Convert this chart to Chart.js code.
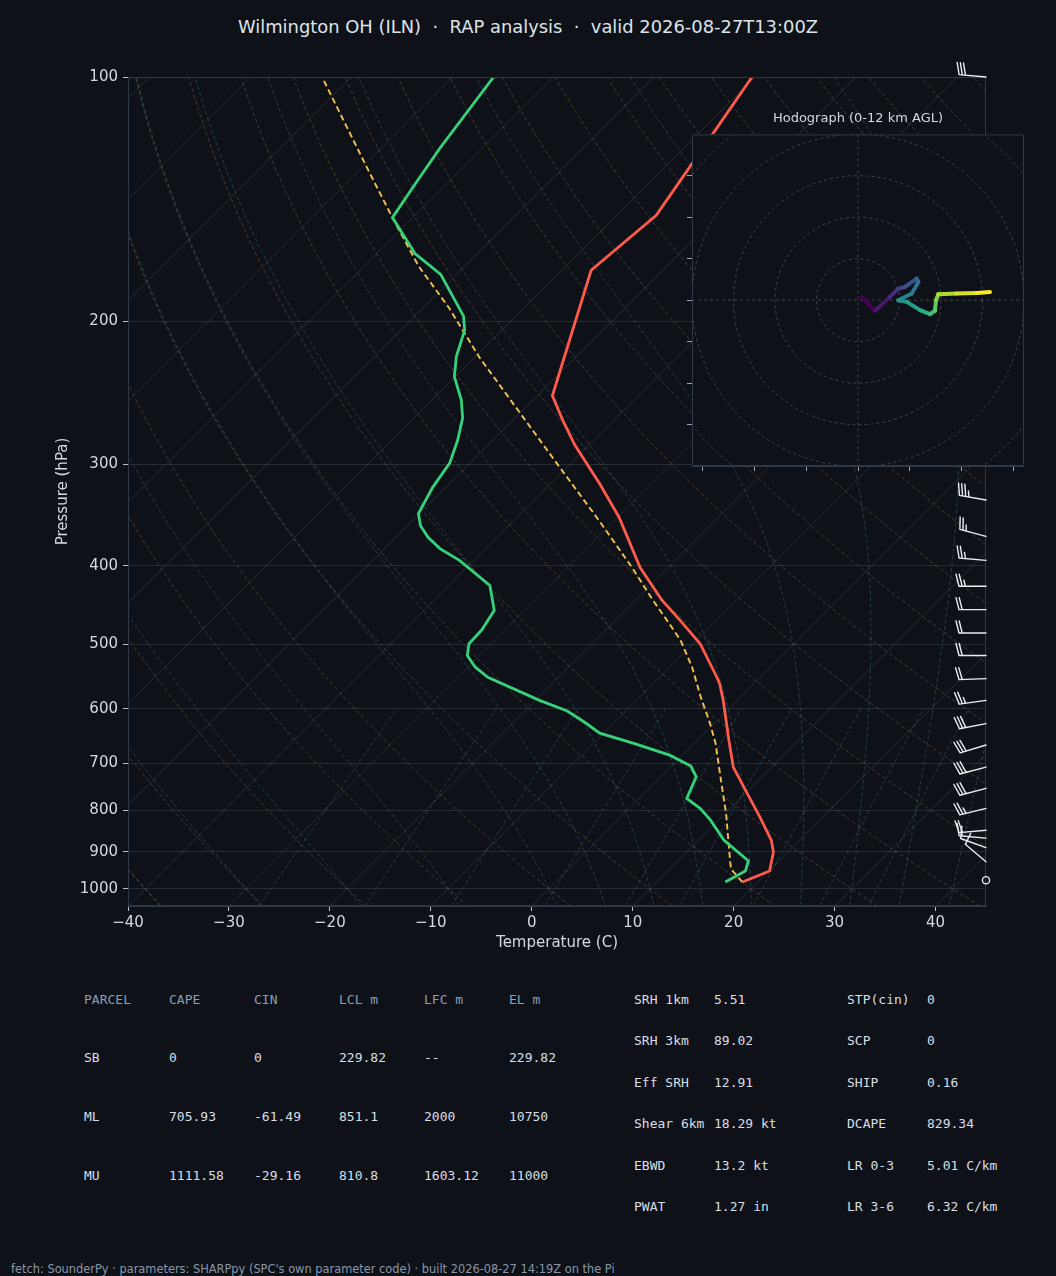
<!DOCTYPE html>
<html>
<head>
<meta charset="utf-8">
<script src="https://cdn.jsdelivr.net/npm/chart.js@4.4.1/dist/chart.umd.min.js"></script>
<style>
  body { margin: 0; background: #0e1218; width: 1056px; height: 1276px; overflow: hidden; position: relative; font-family: "DejaVu Sans", sans-serif; }
  #skew { position: absolute; left: 0; top: 0; }
  #hodo { position: absolute; left: 660px; top: 100px; }
  #title { position: absolute; left: 0; width: 1056px; top: 15px; text-align: center; font-size: 17.9px; line-height: 24px; color: #dfe4ea; white-space: pre; }
  .cell { position: absolute; font-family: "DejaVu Sans Mono", monospace; font-size: 13px; line-height: 16px; color: #d9dee6; white-space: pre; }
  .cell.head { color: #8d9db6; }
  #foot { position: absolute; left: 11px; top: 1262px; font-size: 11.4px; line-height: 14px; color: #8a96a8; white-space: pre; }
</style>
</head>
<body>
<div id="title">Wilmington OH (ILN)  ·  RAP analysis  ·  valid 2026-08-27T13:00Z</div>
<canvas id="skew" width="1056" height="960"></canvas>
<canvas id="hodo" width="380" height="380"></canvas>
<div id="tables"></div>
<div id="foot">fetch: SounderPy · parameters: SHARPpy (SPC's own parameter code) · built 2026-08-27 14:19Z on the Pi</div>
<script>
// sounding: pressure (hPa) and temperature (C)
const tempP = [981, 951, 901, 871, 816, 749, 708, 656, 586, 559, 548, 499, 467, 441, 402, 349, 317, 284, 265, 247, 236, 173, 148, 116, 100];
const tempC = [18.5, 20.1, 18.6, 17.2, 13.8, 9.2, 6.2, 3.1, -1.4, -3.4, -4.4, -9.3, -13.6, -17.4, -22.8, -29.8, -35.1, -41.4, -45.0, -48.5, -49.6, -57.1, -56.1, -58.7, -60.3];

const dewP = [981, 951, 924, 871, 823, 796, 774, 728, 706, 685, 662, 643, 624, 604, 586, 549, 533, 516, 499, 480, 454, 423, 394, 381, 369, 357, 345, 320, 299, 280, 263, 250, 234, 221, 205, 197, 175, 165, 149, 134, 122, 100];
const dewC = [16.8, 17.7, 17.0, 12.5, 9.2, 7.0, 4.7, 3.5, 1.9, -1.2, -6.0, -10.4, -12.9, -15.8, -19.6, -27.0, -29.3, -31.2, -32.2, -32.3, -33.0, -35.9, -41.4, -44.5, -46.8, -48.7, -50.1, -51.3, -52.0, -53.5, -55.2, -57.1, -60.1, -61.9, -63.7, -65.2, -71.6, -76.2, -82.0, -83.2, -84.2, -85.9];

const parcelP = [981, 946, 922, 808, 728, 662, 626, 580, 533, 494, 467, 441, 402, 352, 300, 222, 192, 171, 149, 129, 100];
const parcelC = [18.5, 16.1, 15.1, 10.1, 5.9, 2.1, -0.4, -4.0, -7.8, -11.6, -14.9, -18.3, -23.6, -31.5, -41.2, -59.4, -67.6, -74.6, -82.0, -89.6, -102.9];

// wind barbs: pressure, direction (deg), speed (kt)
const windP = [976, 926, 890, 866, 847, 796, 752, 708, 665, 626, 586, 551, 516, 484, 453, 424, 394, 368, 332, 100];
const windDir = [0, 310, 290, 275, 265, 256, 255, 255, 253, 259, 262, 268, 270, 270, 270, 270, 275, 285, 280, 275];
const windKt = [0, 10, 10, 15, 20, 25, 30, 30, 30, 30, 25, 20, 20, 20, 20, 25, 25, 25, 35, 30];

// hodograph u/v (kt), bottom to top
const hodoU = [1.8, 8.2, 15.4, 19.4, 22.6, 28.3, 29.1, 25.9, 19.4, 23.5, 29.9, 34.7, 37.1, 37.6, 38.7, 47.5, 57.2, 63.6];
const hodoV = [1.6, -5.1, 1.6, 5.6, 6.4, 10.4, 8.8, 3.2, 0.0, -0.8, -4.8, -6.7, -5.1, 0.0, 2.9, 3.2, 3.5, 3.9];

const pressureTicks = [100, 200, 300, 400, 500, 600, 700, 800, 900, 1000];
const tempTicks = [-40, -30, -20, -10, 0, 10, 20, 30, 40];
const hodoTicksU = [-75, -50, -25, 0, 25, 50, 75];
const hodoTicksV = [-60, -40, -20, 0, 20, 40, 60];

const parcelTable = [
  ['PARCEL', 'CAPE', 'CIN', 'LCL m', 'LFC m', 'EL m'],
  ['SB', '0', '0', '229.82', '--', '229.82'],
  ['ML', '705.93', '-61.49', '851.1', '2000', '10750'],
  ['MU', '1111.58', '-29.16', '810.8', '1603.12', '11000'],
];
const paramTable = [
  ['SRH 1km', '5.51', 'STP(cin)', '0'],
  ['SRH 3km', '89.02', 'SCP', '0'],
  ['Eff SRH', '12.91', 'SHIP', '0.16'],
  ['Shear 6km', '18.29 kt', 'DCAPE', '829.34'],
  ['EBWD', '13.2 kt', 'LR 0-3', '5.01 C/km'],
  ['PWAT', '1.27 in', 'LR 3-6', '6.32 C/km'],
];

// ---- skew-T helpers ----
const P_BOT = 1050, P_TOP = 100;
const K = 80.42;  // deg C per decade of pressure -> isotherms at 45 deg
const skew = (t, p) => t + K * Math.log10(P_BOT / p);
const toPts = (ps, ts) => ps.map((p, i) => ({ x: skew(ts[i], p), y: p }));

const BG = '#0e1218';
const SPINE = '#2f3946';
const TXT = '#d3d9e1';

function bgLine(data, color, dash) {
  return { data, borderColor: color, borderWidth: 1, borderDash: dash || [], pointRadius: 0, showLine: true, order: 10 };
}

const levels = [];
for (let p = P_BOT; p >= P_TOP; p -= 10) levels.push(p);

const background = [];
// isotherms
for (let t = -130; t <= 40; t += 10) {
  background.push(bgLine([{ x: skew(t, P_BOT), y: P_BOT }, { x: skew(t, P_TOP), y: P_TOP }], 'rgba(140,150,165,0.2)'));
}
// dry adiabats
for (let th = -40; th <= 200; th += 10) {
  const pts = levels.map(p => ({ x: skew((th + 273.15) * Math.pow(p / 1000, 0.2857) - 273.15, p), y: p }));
  background.push(bgLine(pts, 'rgba(150,115,70,0.42)', [4, 2.5]));
}
// moist adiabats
function moistAdiabat(t0) {
  const Rd = 287.04, Cp = 1005.7, Lv = 2.501e6, eps = 0.622;
  const rate = (T, p) => {
    const es = 6.112 * Math.exp(17.67 * (T - 273.15) / (T - 29.65));
    const rs = eps * es / (p - es);
    return (Rd * T + Lv * rs) / (Cp + Lv * Lv * rs * eps / (Rd * T * T)) / p;
  };
  const run = (dp, stop) => {
    const out = [];
    let T = t0 + 273.15;
    for (let p = 1000; dp < 0 ? p >= stop : p <= stop; p += dp) {
      out.push({ x: skew(T - 273.15, p), y: p });
      const k1 = rate(T, p);
      const k2 = rate(T + k1 * dp / 2, p + dp / 2);
      T += k2 * dp;
    }
    return out;
  };
  return run(10, P_BOT).reverse().concat(run(-10, P_TOP).slice(1));
}
[-40, -30, -20, -10, 0, 5, 10, 15, 20, 25, 30, 35, 40, 45].forEach(t0 => {
  background.push(bgLine(moistAdiabat(t0), 'rgba(70,120,140,0.42)', [4, 2.5]));
});
// mixing ratio lines
[0.0004, 0.001, 0.002, 0.004, 0.007, 0.01, 0.016, 0.024, 0.032].forEach(w => {
  const pts = [];
  for (let p = P_BOT; p >= 600; p -= 10) {
    const e = w * p / (0.622 + w);
    const l = Math.log(e / 6.112);
    pts.push({ x: skew(243.5 * l / (17.67 - l), p), y: p });
  }
  background.push(bgLine(pts, 'rgba(70,120,140,0.42)', [4, 2.5]));
});

// ---- wind barbs ----
function drawBarb(ctx, bx, by, dir, spd) {
  if (spd < 2.5) {
    ctx.beginPath();
    ctx.arc(bx, by, 3.6, 0, 2 * Math.PI);
    ctx.stroke();
    return;
  }
  const a = dir * Math.PI / 180;
  const dx = Math.sin(a), dy = -Math.cos(a);
  const nx = -dy, ny = dx;
  const L = 27, bl = 12, sp = 3.2;
  const tx = bx + dx * L, ty = by + dy * L;
  ctx.beginPath();
  ctx.moveTo(bx, by);
  ctx.lineTo(tx, ty);
  let s = Math.round(spd / 5) * 5;
  const full = Math.floor(s / 10);
  const half = s % 10 >= 5;
  let pos = 0;
  for (let k = 0; k < full; k++) {
    const px = tx - dx * pos, py = ty - dy * pos;
    ctx.moveTo(px, py);
    ctx.lineTo(px + nx * bl + dx * bl * 0.25, py + ny * bl + dy * bl * 0.25);
    pos += sp;
  }
  if (half) {
    if (full === 0) pos += sp;
    const px = tx - dx * pos, py = ty - dy * pos;
    ctx.moveTo(px, py);
    ctx.lineTo(px + nx * bl * 0.5 + dx * bl * 0.125, py + ny * bl * 0.5 + dy * bl * 0.125);
  }
  ctx.stroke();
}

const skewExtras = {
  id: 'skewExtras',
  afterDatasetsDraw(chart) {
    const { ctx, chartArea: a, scales: { x, y } } = chart;
    ctx.save();
    ctx.strokeStyle = SPINE;
    ctx.lineWidth = 1;
    ctx.strokeRect(a.left + 0.5, a.top + 0.5, a.right - a.left - 1, a.bottom - a.top - 1);
    ctx.strokeStyle = '#e9edf2';
    ctx.lineWidth = 1.4;
    ctx.lineCap = 'round';
    const x0 = x.getPixelForValue(45);
    windP.forEach((p, i) => drawBarb(ctx, x0, y.getPixelForValue(p), windDir[i], windKt[i]));
    ctx.restore();
  }
};

Chart.defaults.font.family = '"DejaVu Sans", sans-serif';
Chart.defaults.color = TXT;

new Chart(document.getElementById('skew'), {
  type: 'scatter',
  data: {
    datasets: [
      { data: toPts(tempP, tempC), borderColor: '#ff5a4b', borderWidth: 2.8, pointRadius: 0, showLine: true, order: 1 },
      { data: toPts(dewP, dewC), borderColor: '#37d17b', borderWidth: 2.8, pointRadius: 0, showLine: true, order: 2 },
      { data: toPts(parcelP, parcelC), borderColor: '#f4c24c', borderWidth: 1.9, borderDash: [6, 3.5], pointRadius: 0, showLine: true, order: 3 },
      ...background,
    ],
  },
  options: {
    responsive: false,
    animation: false,
    events: [],
    layout: { padding: { left: 51, top: 77, right: 70, bottom: 5 } },
    plugins: { legend: { display: false }, tooltip: { enabled: false } },
    scales: {
      x: {
        type: 'linear', min: -40, max: 45,
        afterBuildTicks: s => { s.ticks = tempTicks.map(v => ({ value: v })); },
        afterFit: s => { s.height = 49; },
        ticks: { color: TXT, font: { size: 15 }, padding: 3, autoSkip: false, maxRotation: 0,
                 callback: v => (v < 0 ? '\u2212' + Math.abs(v) : String(v)) },
        grid: { drawOnChartArea: false, tickLength: 5, tickColor: '#b8c0cc' },
        border: { color: SPINE },
        title: { display: true, text: 'Temperature (C)', color: TXT, font: { size: 15 }, padding: { top: 4, bottom: 3 } },
      },
      y: {
        type: 'logarithmic', reverse: true, min: P_TOP, max: P_BOT,
        afterBuildTicks: s => { s.ticks = pressureTicks.map(v => ({ value: v })); },
        afterFit: s => { s.width = 77; },
        ticks: { color: TXT, font: { size: 15 }, padding: 5, autoSkip: false, callback: v => String(v) },
        grid: { color: 'rgba(140,150,165,0.2)', tickLength: 5, tickColor: '#b8c0cc' },
        border: { color: SPINE },
        title: { display: true, text: 'Pressure (hPa)', color: TXT, font: { size: 15 }, padding: { top: 3, bottom: 4 } },
      },
    },
  },
  plugins: [skewExtras],
});

// ---- hodograph ----
const VIRIDIS = ['#440154', '#482475', '#414487', '#355f8d', '#2a788e', '#21918c', '#22a884', '#44bf70', '#7ad151', '#bddf26', '#fde725'];
function viridis(t) {
  t = Math.min(1, Math.max(0, t));
  const f = t * 10, i = Math.min(9, Math.floor(f)), r = f - i;
  const h = c => [1, 3, 5].map(k => parseInt(c.slice(k, k + 2), 16));
  const a = h(VIRIDIS[i]), b = h(VIRIDIS[i + 1]);
  return 'rgb(' + a.map((v, k) => Math.round(v + (b[k] - v) * r)).join(',') + ')';
}

const hodoExtras = {
  id: 'hodoExtras',
  beforeDatasetsDraw(chart) {
    const { ctx, chartArea: a, scales: { x, y } } = chart;
    ctx.save();
    ctx.fillStyle = BG;
    ctx.fillRect(a.left, a.top, a.right - a.left, a.bottom - a.top);
    ctx.beginPath();
    ctx.rect(a.left, a.top, a.right - a.left, a.bottom - a.top);
    ctx.clip();
    ctx.strokeStyle = 'rgba(130,140,155,0.4)';
    ctx.lineWidth = 1;
    ctx.setLineDash([3, 3]);
    const cx = x.getPixelForValue(0), cy = y.getPixelForValue(0);
    const unit = x.getPixelForValue(1) - cx;
    for (let r = 20; r <= 120; r += 20) {
      ctx.beginPath();
      ctx.arc(cx, cy, r * unit, 0, 2 * Math.PI);
      ctx.stroke();
    }
    ctx.beginPath();
    ctx.moveTo(cx, a.top); ctx.lineTo(cx, a.bottom);
    ctx.moveTo(a.left, cy); ctx.lineTo(a.right, cy);
    ctx.stroke();
    ctx.restore();
  },
  afterDraw(chart) {
    const { ctx, chartArea: a } = chart;
    ctx.save();
    ctx.strokeStyle = SPINE;
    ctx.lineWidth = 1;
    ctx.strokeRect(a.left + 0.5, a.top + 0.5, a.right - a.left - 1, a.bottom - a.top - 1);
    ctx.restore();
  }
};

const hodoAxis = (ticks, fit) => ({
  type: 'linear', min: -80, max: 80,
  afterBuildTicks: s => { s.ticks = ticks.map(v => ({ value: v })); },
  afterFit: fit,
  ticks: { callback: () => '', autoSkip: false },
  grid: { drawOnChartArea: false, tickLength: 5, tickColor: '#9aa4b2' },
  border: { color: SPINE },
});

new Chart(document.getElementById('hodo'), {
  type: 'scatter',
  data: {
    datasets: [{
      data: hodoU.map((u, i) => ({ x: u, y: hodoV[i] })),
      showLine: true, pointRadius: 0, borderWidth: 4,
      borderCapStyle: 'round', borderJoinStyle: 'round',
      segment: { borderColor: c => viridis(c.p0DataIndex / (hodoU.length - 2)) },
    }],
  },
  options: {
    responsive: false,
    animation: false,
    events: [],
    layout: { padding: { left: 24, right: 16, top: 1, bottom: 6 } },
    plugins: {
      legend: { display: false },
      tooltip: { enabled: false },
      title: { display: true, fullSize: false, text: 'Hodograph (0-12 km AGL)', color: '#d3d9e1',
               font: { size: 13, weight: 'normal' }, padding: { top: 10, bottom: 7.8 } },
    },
    scales: {
      x: hodoAxis(hodoTicksU, s => { s.height = 8; }),
      y: hodoAxis(hodoTicksV, s => { s.width = 8; }),
    },
  },
  plugins: [hodoExtras],
});

// ---- parameter tables ----
const tables = document.getElementById('tables');
function cell(text, x, y, head) {
  const d = document.createElement('div');
  d.className = 'cell' + (head ? ' head' : '');
  d.textContent = text;
  d.style.left = x + 'px';
  d.style.top = (y - 8) + 'px';
  tables.appendChild(d);
}
const parcelCols = [84, 169, 254, 339, 424, 509];
const parcelRows = [1000, 1058, 1117, 1176];
parcelTable.forEach((row, r) => row.forEach((t, c) => cell(t, parcelCols[c], parcelRows[r], r === 0)));
const paramCols = [634, 714, 847, 927];
const paramRows = [1000, 1041, 1083, 1124, 1166, 1207];
paramTable.forEach((row, r) => row.forEach((t, c) => cell(t, paramCols[c], paramRows[r], false)));
</script>
</body>
</html>
